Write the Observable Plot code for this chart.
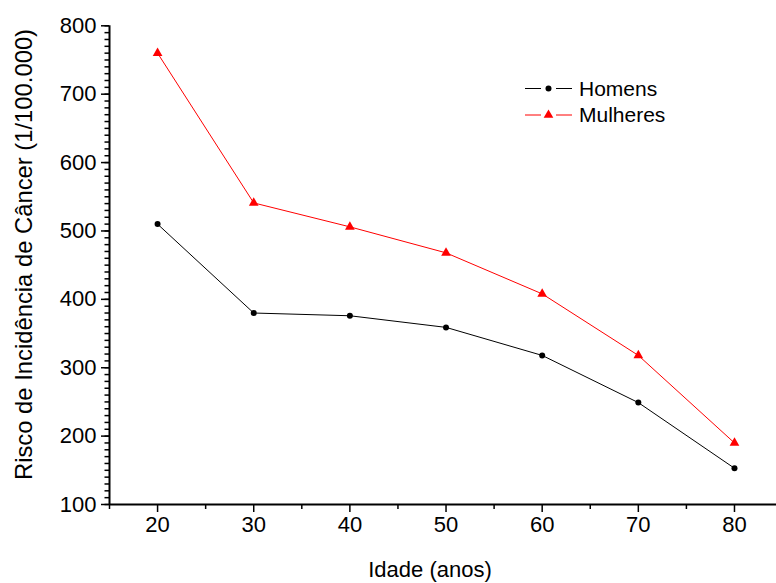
<!DOCTYPE html>
<html>
<head>
<meta charset="utf-8">
<script src="https://cdn.jsdelivr.net/npm/d3@7"></script>
<script src="https://cdn.jsdelivr.net/npm/@observablehq/plot@0.6"></script>
<style>
  html, body { margin: 0; padding: 0; background: #fff; }
  #chart svg { display: block; }
</style>
</head>
<body>
<div id="chart"></div>
<script>
// Age groups (years) and cancer incidence risk per 100,000
const idades = [20, 30, 40, 50, 60, 70, 80];
const homens = [510, 380, 376, 359, 318, 249, 153];
const mulheres = [760, 541, 506, 468, 408, 318, 190];
const majorX = [20, 30, 40, 50, 60, 70, 80];
const minorX = [15, 25, 35, 45, 55, 65, 75, 85];
const majorY = [100, 200, 300, 400, 500, 600, 700, 800];
const minorY = d3.range(100, 801, 10);

const series = [
  {nome: "Homens", valores: homens, cor: "#000000", simbolo: "circle", r: 3},
  {nome: "Mulheres", valores: mulheres, cor: "#ff0000", simbolo: "triangle", r: 3.6}
];
const rows = series.flatMap(s => idades.map((idade, i) => ({serie: s.nome, idade, risco: s.valores[i]})));

const font = "'Liberation Sans', Arial, sans-serif";

const marks = [];
for (const s of series) {
  const d = rows.filter(r => r.serie === s.nome);
  marks.push(Plot.line(d, {x: "idade", y: "risco", stroke: s.cor, strokeWidth: 1}));
  marks.push(Plot.dot(d, {x: "idade", y: "risco", fill: s.cor, stroke: "none", symbol: s.simbolo, r: s.r}));
}

const chart = Plot.plot({
  width: 776,
  height: 583,
  marginLeft: 109,
  marginRight: 0,
  marginTop: 25.3,
  marginBottom: 79,
  style: {fontFamily: font, fontSize: "22px", color: "#000", background: "#fff"},
  x: {domain: [15, 84.37], label: null},
  y: {domain: [100, 800], label: null},
  marks: [
    // minor and major ticks on the y axis
    Plot.axisY({ticks: minorY, tickSize: 4.5, text: null, strokeWidth: 1.5, label: null}),
    Plot.axisY({ticks: majorY, tickSize: 8, tickPadding: 5, strokeWidth: 1.5, fontSize: 22, label: null}),
    // minor and major ticks on the x axis
    Plot.axisX({ticks: minorX, tickSize: 5, text: null, strokeWidth: 1.5, label: null}),
    Plot.axisX({ticks: majorX, tickSize: 8, tickPadding: 4, strokeWidth: 1.5, fontSize: 22, label: null}),
    Plot.ruleX([15], {strokeWidth: 2}),
    Plot.ruleY([100], {strokeWidth: 2}),
    ...marks
  ]
});

const svg = d3.select(chart);

// axis titles
svg.append("text")
  .attr("x", 430).attr("y", 577)
  .attr("text-anchor", "middle")
  .attr("font-family", font).attr("font-size", 22).attr("fill", "#000")
  .text("Idade (anos)");
svg.append("text")
  .attr("transform", "translate(31.5,254.5) rotate(-90)")
  .attr("text-anchor", "middle")
  .attr("font-family", font).attr("font-size", 23.8).attr("fill", "#000")
  .text("Risco de Incidência de Câncer (1/100.000)");

// legend
const legend = svg.append("g").attr("font-family", font).attr("font-size", 21).attr("text-anchor", "start");
series.forEach((s, i) => {
  const cy = 88.5 + i * 26.5;
  const g = legend.append("g");
  g.append("line").attr("x1", 525).attr("x2", 541).attr("y1", cy).attr("y2", cy).attr("stroke", s.cor).attr("stroke-width", 1);
  g.append("line").attr("x1", 556).attr("x2", 572).attr("y1", cy).attr("y2", cy).attr("stroke", s.cor).attr("stroke-width", 1);
  const sym = s.simbolo === "circle" ? d3.symbolCircle : d3.symbolTriangle;
  g.append("path")
    .attr("d", d3.symbol(sym, Math.PI * s.r * s.r)())
    .attr("transform", `translate(548.5,${cy})`)
    .attr("fill", s.cor);
  g.append("text").attr("x", 579).attr("y", cy).attr("dy", "0.35em").attr("fill", "#000").text(s.nome);
});

document.getElementById("chart").appendChild(chart);
</script>
</body>
</html>
